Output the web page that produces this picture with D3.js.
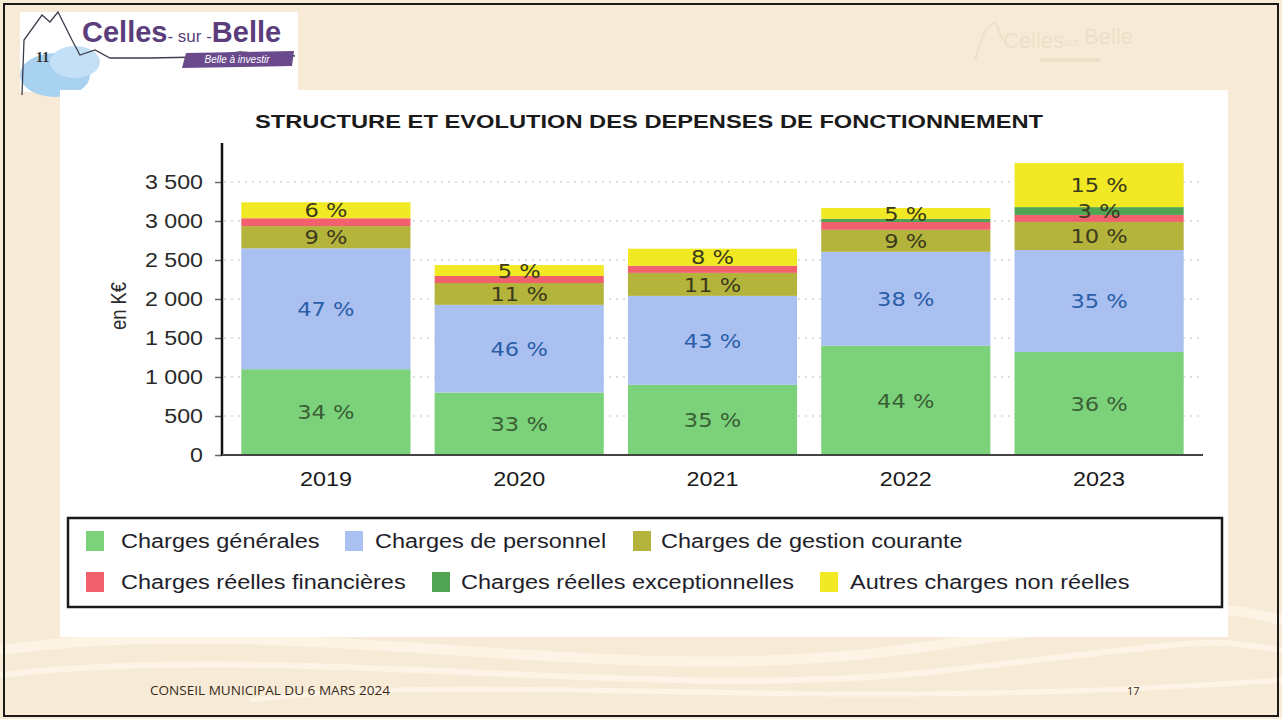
<!DOCTYPE html>
<html><head><meta charset="utf-8">
<script src="https://cdn.jsdelivr.net/npm/d3@7"></script>
<style>
html,body{margin:0;padding:0;background:#f7ebd7;}
svg{display:block;}
</style></head>
<body>
<svg id="c" width="1282" height="719"></svg>
<script>
// ---- data ----
const years = ["2019", "2020", "2021", "2022", "2023"];
const seriesNames = ["Charges générales", "Charges de personnel", "Charges de gestion courante",
  "Charges réelles financières", "Charges réelles exceptionnelles", "Autres charges non réelles"];
const chargesGenerales   = [1100, 800, 900, 1400, 1320];
const chargesPersonnel   = [1550, 1125, 1140, 1205, 1308];
const chargesGestion     = [285, 280, 295, 282, 360];
const chargesFinancieres = [100, 90, 90, 100, 90];
const chargesExcept      = [0, 0, 0, 40, 100];
const autresNonReelles   = [205, 140, 220, 140, 565];
const labelsGenerales    = ["34 %", "33 %", "35 %", "44 %", "36 %"];
const labelsPersonnel    = ["47 %", "46 %", "43 %", "38 %", "35 %"];
const labelsGestion      = ["9 %", "11 %", "11 %", "9 %", "10 %"];
const labelsFinancieres  = ["", "", "", "", ""];
const labelsExcept       = ["", "", "", "", "3 %"];
const labelsAutres       = ["6 %", "5 %", "8 %", "5 %", "15 %"];
const yTicks = [0, 500, 1000, 1500, 2000, 2500, 3000, 3500];
const yTickLabels = ["0", "500", "1 000", "1 500", "2 000", "2 500", "3 000", "3 500"];

const seriesValues = [chargesGenerales, chargesPersonnel, chargesGestion, chargesFinancieres, chargesExcept, autresNonReelles];
const seriesLabels = [labelsGenerales, labelsPersonnel, labelsGestion, labelsFinancieres, labelsExcept, labelsAutres];
const colors = ["#7cd27a", "#aac0f0", "#b4b43c", "#f2606e", "#4fa352", "#f1e923"];
const labelColors = ["#3a5e36", "#2b5ea8", "#3b3a1c", "#333", "#3b3a1c", "#3b3a1c"];

const svg = d3.select("#c");

// widen glyphs horizontally (the reference slide is slightly stretched)
function stretch(sel, f) {
  sel.each(function() {
    const t = d3.select(this);
    const x0 = +t.attr("x") || 0;
    t.attr("x", x0 / f).attr("transform", `scale(${f},1)`);
  });
}

// ---- slide background ----
svg.append("rect").attr("x",0).attr("y",0).attr("width",1282).attr("height",719).attr("fill","#f7ebd7");
const wave = svg.append("g").attr("fill","none").attr("stroke","#fff6e8").attr("stroke-opacity",0.8);
wave.append("path").attr("d","M0,650 C300,610 600,690 900,650 S1200,600 1282,620").attr("stroke-width",10);
wave.append("path").attr("d","M0,675 C300,640 650,705 950,670 S1200,640 1282,650").attr("stroke-width",6);
wave.append("path").attr("d","M250,700 C500,670 800,715 1282,680").attr("stroke-width",5);
// faint logo top-right
const ghost = svg.append("g").attr("fill","#eee0c8").attr("font-family","Liberation Sans, Arial, sans-serif");
ghost.append("path").attr("d","M975,60 L985,30 L995,22 L1003,40").attr("fill","none").attr("stroke","#eee0c8").attr("stroke-width",2);
ghost.append("text").attr("x",1003).attr("y",48).attr("font-size",22).text("Celles");
ghost.append("text").attr("x",1064).attr("y",46).attr("font-size",11).text("sur");
ghost.append("text").attr("x",1084).attr("y",44).attr("font-size",22).text("Belle");
ghost.append("rect").attr("x",1040).attr("y",58).attr("width",60).attr("height",4);

// ---- logo top-left ----
const logo = svg.append("g");
logo.append("rect").attr("x",20).attr("y",12).attr("width",278).attr("height",80).attr("fill","#ffffff");
logo.append("ellipse").attr("cx",55).attr("cy",75).attr("rx",35).attr("ry",22).attr("fill","#a9d1f0");
logo.append("ellipse").attr("cx",75).attr("cy",62).attr("rx",25).attr("ry",16).attr("fill","#c4e0f6");
logo.append("path").attr("d","M22,95 L24,40 L42,15 L50,22 L58,12 L72,40 L80,55 L95,50 L110,58 L150,58 L200,57 L240,52 L295,56")
  .attr("fill","none").attr("stroke","#3e3e4e").attr("stroke-width",1.3);
logo.append("text").attr("x",36).attr("y",62).attr("font-family","Liberation Serif, serif").attr("font-weight","bold")
  .attr("font-size",14).attr("fill","#333").text("11");
logo.append("text").attr("x",82).attr("y",42).attr("font-family","Liberation Sans, Arial, sans-serif")
  .attr("font-weight","bold").attr("font-size",29).attr("fill","#5b3d7c")
  .text("Celles").append("tspan").attr("font-size",17).attr("font-weight","normal").text("- sur -")
  .append("tspan").attr("font-size",29).attr("font-weight","bold").text("Belle");
logo.append("path").attr("d","M186,53 L294,51 L292,66 L182,68 Z").attr("fill","#6a4a8c");
logo.append("text").attr("x",237).attr("y",63).attr("text-anchor","middle").attr("font-family","Liberation Sans, Arial, sans-serif")
  .attr("font-style","italic").attr("font-size",10).attr("fill","#ffffff").text("Belle à investir");

// ---- white chart panel ----
svg.append("rect").attr("x",60).attr("y",90).attr("width",1168).attr("height",547).attr("fill","#ffffff");

// ---- title ----
svg.append("text").attr("x",649).attr("y",128).attr("text-anchor","middle")
  .attr("font-family","Liberation Sans, Arial, sans-serif").attr("font-weight","bold")
  .attr("font-size",19).attr("fill","#1a1a1a").attr("textLength",788).attr("lengthAdjust","spacingAndGlyphs")
  .text("STRUCTURE ET EVOLUTION DES DEPENSES DE FONCTIONNEMENT");

// ---- scales ----
const x = d3.scaleBand().domain(years).range([222, 1203]).paddingInner(0.125).paddingOuter(0.1);
const y = d3.scaleLinear().domain([0, 4000]).range([455, 143]);

// gridlines
svg.append("g").selectAll("line").data(yTicks.filter(t => t > 0)).join("line")
  .attr("x1",224).attr("x2",1203).attr("y1",d=>y(d)).attr("y2",d=>y(d))
  .attr("stroke","#d4d4d4").attr("stroke-width",1.5).attr("stroke-dasharray","2,5");

// stacked data
const rows = years.map((yr,i) => {
  const o = {year: yr};
  seriesValues.forEach((s,k) => o["s"+k] = s[i]);
  return o;
});
const stack = d3.stack().keys(seriesValues.map((s,k)=>"s"+k))(rows);

const gBars = svg.append("g");
stack.forEach((layer,k) => {
  gBars.append("g").attr("fill", colors[k]).selectAll("rect").data(layer).join("rect")
    .attr("x", d => x(d.data.year)).attr("width", x.bandwidth())
    .attr("y", d => y(d[1])).attr("height", d => Math.max(0, y(d[0]) - y(d[1])));
});
stack.forEach((layer,k) => {
  const t = svg.append("g").selectAll("text").data(layer).join("text")
    .attr("x", d => x(d.data.year) + x.bandwidth()/2)
    .attr("y", d => (y(d[0]) + y(d[1]))/2)
    .attr("dy","0.36em").attr("text-anchor","middle")
    .attr("font-family","DejaVu Sans, sans-serif").attr("font-size",20)
    .attr("fill", labelColors[k])
    .text((d,i) => seriesLabels[k][i]);
  stretch(t, 1.13);
});

// y axis
const yAxis = d3.axisLeft(y).tickValues(yTicks).tickFormat((d,i)=>yTickLabels[i]).tickSize(7).tickPadding(12);
const gy = svg.append("g").attr("transform","translate(222,0)").call(yAxis);
gy.select(".domain").remove();
gy.append("line").attr("x1",0).attr("x2",0).attr("y1",143).attr("y2",456).attr("stroke","#111").attr("stroke-width",2.5);
gy.selectAll(".tick line").attr("stroke","#666").attr("stroke-width",1.5);
gy.selectAll(".tick text").attr("font-family","Liberation Sans, Arial, sans-serif").attr("font-size",20).attr("fill","#2a2a2a");
stretch(gy.selectAll(".tick text"), 1.16);

// x axis
const xAxis = d3.axisBottom(x).tickSize(0).tickPadding(17);
const gx = svg.append("g").attr("transform","translate(0,455)").call(xAxis);
gx.select(".domain").remove();
gx.append("line").attr("x1",222).attr("x2",1203).attr("y1",0).attr("y2",0).attr("stroke","#444").attr("stroke-width",2);
gx.selectAll(".tick text").attr("font-family","Liberation Sans, Arial, sans-serif").attr("font-size",20).attr("fill","#1a1a1a");
stretch(gx.selectAll(".tick text"), 1.17);

// y axis title
svg.append("text").attr("transform","translate(126,306) rotate(-90)").attr("text-anchor","middle")
  .attr("font-family","Liberation Sans, Arial, sans-serif").attr("font-size",22).attr("fill","#2a2a2a")
  .attr("textLength",48).attr("lengthAdjust","spacingAndGlyphs").text("en K€");

// ---- legend ----
svg.append("rect").attr("x",68).attr("y",518).attr("width",1154).attr("height",89)
  .attr("fill","#ffffff").attr("stroke","#1a1a1a").attr("stroke-width",2.5);
const legendPos = [[86,541,35],[345,541,30],[633,541,28],[86,582,35],[432,582,29],[820,582,30]];
const lg = svg.append("g").selectAll("g").data(seriesNames).join("g")
  .attr("transform",(d,i)=>`translate(${legendPos[i][0]},${legendPos[i][1]})`);
lg.append("rect").attr("x",0).attr("y",-10).attr("width",18).attr("height",20).attr("fill",(d,i)=>colors[i]);
const lt = lg.append("text").attr("x",(d,i)=>legendPos[i][2]).attr("y",0).attr("dy","0.35em")
  .attr("font-family","Liberation Sans, Arial, sans-serif").attr("font-size",20).attr("fill","#1e1e2a").text(d=>d);
stretch(lt, 1.175);

// ---- footer ----
svg.append("text").attr("x",150).attr("y",695).attr("font-family","Open Sans, sans-serif").attr("font-size",12)
  .attr("fill","#3a2a1a").attr("textLength",240).attr("lengthAdjust","spacingAndGlyphs").text("CONSEIL MUNICIPAL DU 6 MARS 2024");
svg.append("text").attr("x",1127).attr("y",695).attr("font-family","Open Sans, sans-serif").attr("font-size",11)
  .attr("fill","#3a2a1a").text("17");

// ---- slide frame ----
svg.append("rect").attr("x",4).attr("y",4).attr("width",1274).attr("height",712)
  .attr("fill","none").attr("stroke","#1a1a1a").attr("stroke-width",2);
</script>
</body></html>
